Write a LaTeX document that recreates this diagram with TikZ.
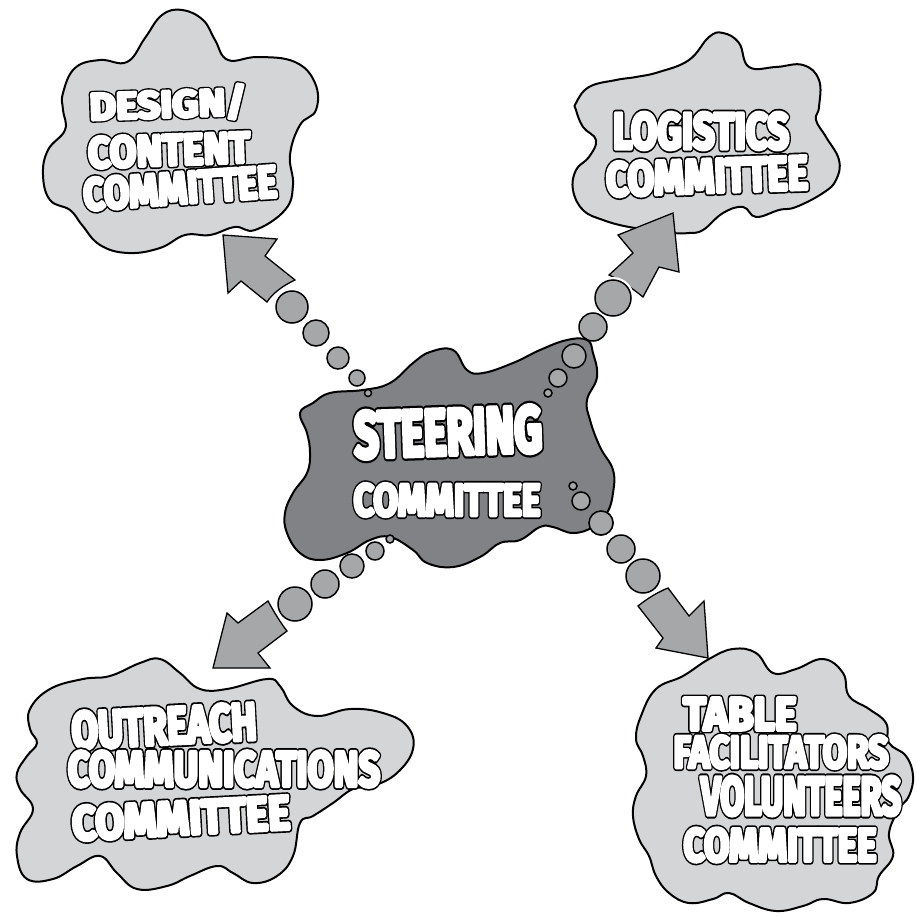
\documentclass[tikz,border=0pt]{standalone}
\usepackage{fontspec}
\setmainfont{Fira Sans}
\usepackage{graphicx}
\definecolor{cloudlight}{HTML}{D4D5D7}
\definecolor{clouddark}{HTML}{808285}
\definecolor{arrowgray}{HTML}{A6A7A9}
\newcommand\lbl[3]{\resizebox{#1pt}{#2pt}{\bfseries\rlap{\special{pdf:literal direct 2 Tr 1.5 w 1 j 0 g 0 G}#3}\textcolor{white}{\special{pdf:literal direct 2 Tr 0.8 w 1 j 1 g 1 G}#3}\special{pdf:literal direct 0 Tr 0 g 0 G}}}
\tikzset{
  cloudlt/.style={fill=cloudlight, draw=black, line width=2pt, line join=round},
  clouddk/.style={fill=clouddark, draw=black, line width=2pt, line join=round},
  bigarrow/.style={fill=arrowgray, draw=black, line width=1.3pt, line join=miter},
  bubble/.style={fill=arrowgray, draw=black, line width=1.5pt},
  halo/.style={draw=white, line width=6pt},
  txt/.style={inner sep=0pt, outer sep=0pt}
}
\begin{document}
\begin{tikzpicture}[x=1pt, y=-1pt]
\useasboundingbox (0,0) rectangle (916,917);
\fill[white] (0,0) rectangle (916,917);

% ---------- outer clouds ----------
\draw[cloudlt] plot[smooth cycle, tension=0.7] coordinates {
 (63,93) (75,68) (100,60) (127,62) (145,38) (162,15) (182,10) (203,20) (215,40)
 (228,60) (258,57) (295,62) (315,83) (316,110) (300,125) (290,155) (293,185)
 (285,210) (255,230) (235,227) (210,235) (185,235) (160,248) (128,253) (100,245)
 (82,225) (70,210) (50,200) (43,175) (48,150) (65,130) (63,110)};

\draw[cloudlt] plot[smooth cycle, tension=0.7] coordinates {
 (576,103) (589,87) (616,80) (636,77) (659,72) (689,60) (709,37) (723,33) (739,43)
 (749,67) (776,67) (803,65) (819,80) (819,107) (816,120) (826,137) (839,160)
 (836,180) (823,193) (796,207) (779,210) (756,217) (743,207) (723,213) (703,230)
 (689,233) (673,233) (656,230) (629,227) (603,220) (583,210) (573,190) (576,170)
 (589,157) (596,140) (583,127) (576,110)};

\draw[cloudlt] plot[smooth cycle, tension=0.7] coordinates {
 (30,709) (50,689) (83,679) (110,676) (140,663) (160,659) (180,673) (200,689)
 (227,689) (267,679) (280,686) (293,706) (317,716) (350,709) (383,713) (407,726)
 (413,749) (397,773) (373,786) (353,789) (333,803) (313,816) (300,823) (293,856)
 (277,876) (253,883) (233,873) (217,866) (190,876) (167,886) (137,889) (117,873)
 (100,856) (77,866) (53,879) (27,879) (17,856) (20,833) (33,809) (20,789) (17,773)
 (27,756) (37,743) (30,729)};

\draw[cloudlt] plot[smooth cycle, tension=0.7] coordinates {
 (641,716) (656,689) (683,676) (709,659) (733,649) (756,653) (773,673) (796,669)
 (823,659) (843,673) (849,696) (869,709) (886,723) (889,743) (906,756) (913,776)
 (909,796) (899,809) (889,833) (893,856) (879,876) (873,893) (849,903) (823,899)
 (803,906) (776,911) (749,903) (729,893) (713,899) (689,903) (669,893) (656,876)
 (649,856) (639,839) (633,816) (636,796) (646,776) (643,756) (636,739)};

% ---------- arrows ----------
\draw[bigarrow] (223,235) -- (277,239) -- (265,256) -- (295,280)
  .. controls (282,286) and (272,294) .. (267,302) -- (241,281) -- (228,293) -- cycle;
\draw[bigarrow] (673,213) -- (679,272) -- (659,267) -- (643,297)
  .. controls (632,288) and (620,280) .. (609,275) -- (633,253) -- (618,235) -- cycle;
\draw[bigarrow] (213,668) -- (227,613) -- (238,623) -- (268,601)
  .. controls (274,612) and (280,622) .. (287,631) -- (258,653) -- (270,668) -- cycle;
\draw[bigarrow] (708,658) -- (656,648) -- (663,638) -- (638,606)
  .. controls (648,598) and (658,592) .. (668,588) -- (689,616) -- (704,601) -- cycle;

% ---------- bubbles outside the centre ----------
\foreach \x/\y/\r in {292/307/16, 613/298/18, 295/604/17, 643/576/17}{
  \draw[halo] (\x,\y) circle (\r);
}
\foreach \x/\y/\r in {292/307/16, 316/333/13, 338/358/11, 357/378/8,
                      613/298/18, 593/327/14,
                      295/604/17, 325/584/14, 352/566/12,
                      643/576/17, 621/549/14, 601/523/12}{
  \draw[bubble] (\x,\y) circle (\r);
}

% ---------- steering cloud ----------
\draw[clouddk] plot[smooth cycle, tension=0.7] coordinates {
 (313,403) (330,393) (363,390) (390,383) (413,363) (430,352) (453,350) (467,370)
 (483,373) (513,363) (540,350) (567,340) (587,340) (593,353) (597,377) (587,400)
 (590,420) (600,447) (613,470) (613,493) (607,513) (593,527) (573,533) (553,527)
 (540,527) (520,540) (500,543) (480,557) (453,567) (427,563) (413,550) (390,537)
 (370,540) (347,553) (320,560) (300,553) (287,533) (285,513) (293,493) (307,473)
 (310,453) (307,433) (300,413)};

% bubbles on the steering cloud
\foreach \x/\y/\r in {368/393/3.5, 574/356/12, 558/378/9, 548/393/4,
                      375/551/9, 390/539/4, 581/501/9, 573/486/4}{
  \draw[bubble] (\x,\y) circle (\r);
}
\draw[bubble] (601,523) circle (12);

% ---------- labels ----------
\node[txt, rotate=2] (dc1) at (168,104) {\lbl{157}{31}{DESIGN/}};
\node[txt, rotate=2] (dc2) at (169,150) {\lbl{162}{31}{CONTENT}};
\node[txt, rotate=4] (dc3) at (180,188) {\lbl{194}{32}{COMMITTEE}};

\node[txt] (lg1) at (701,131) {\lbl{176}{36}{LOGISTICS}};
\node[txt, rotate=2] (lg2) at (707,176) {\lbl{202}{34}{COMMITTEE}};

\node[txt, rotate=3] (oc1) at (164,726) {\lbl{185}{37}{OUTREACH}};
\node[txt] (oc2) at (224,769) {\lbl{312}{35}{COMMUNICATIONS}};
\node[txt, rotate=3] (oc3) at (181,818) {\lbl{218}{34}{COMMITTEE}};

\node[txt] (tf1) at (740,714) {\lbl{113}{32}{TABLE}};
\node[txt] (tf2) at (781,752) {\lbl{215}{32}{FACILITATORS}};
\node[txt] (tf3) at (801,796) {\lbl{200}{38}{VOLUNTEERS}};
\node[txt] (tf4) at (780,845) {\lbl{193}{33}{COMMITTEE}};

\node[txt, rotate=2] (sc1) at (448,432) {\lbl{188}{46}{STEERING}};
\node[txt] (sc2) at (447,500) {\lbl{187}{32}{COMMITTEE}};
\end{tikzpicture}
\end{document}
